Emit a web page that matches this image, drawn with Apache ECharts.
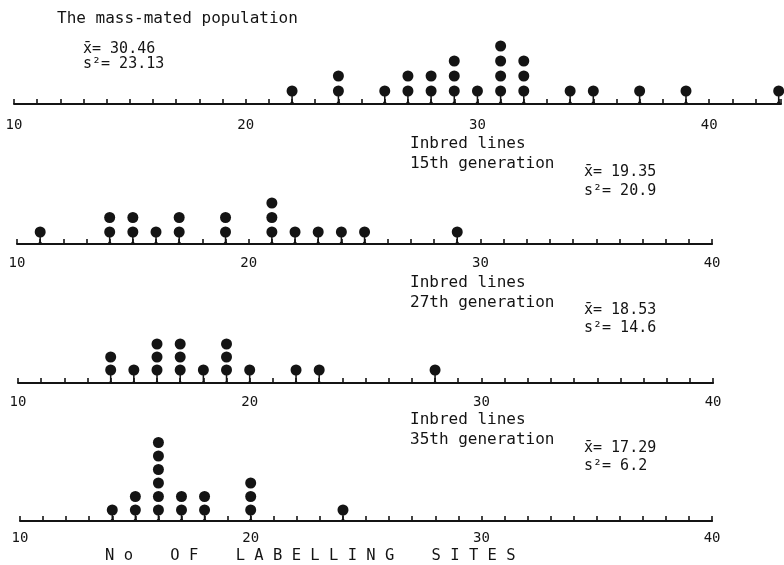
<!DOCTYPE html>
<html>
<head>
<meta charset="utf-8">
<script src="https://cdn.jsdelivr.net/npm/echarts@6/dist/echarts.min.js"></script>
<style>html,body{margin:0;padding:0;background:#fff}#c{width:784px;height:565px}</style>
</head>
<body>
<div id="c"></div>
<script>
// ---- data ----
const massValues  = [22,24,26,27,28,29,30,31,32,34,35,37,39,43];
const massCounts  = [1,2,1,2,2,3,1,4,3,1,1,1,1,1];
const gen15Values = [11,14,15,16,17,19,21,22,23,24,25,29];
const gen15Counts = [1,2,2,1,2,2,3,1,1,1,1,1];
const gen27Values = [14,15,16,17,18,19,20,22,23,28];
const gen27Counts = [2,1,3,3,1,3,1,1,1,1];
const gen35Values = [14,15,16,17,18,20,24];
const gen35Counts = [1,2,6,2,2,3,1];

const panelTitles = ["The mass-mated population", "Inbred lines\n15th generation", "Inbred lines\n27th generation", "Inbred lines\n35th generation"];
const meanTexts   = ["30.46", "19.35", "18.53", "17.29"];
const varTexts    = ["23.13", "20.9", "14.6", "6.2"];
const tickLabels  = [10, 20, 30, 40];
const axisTitle   = "N o    O F    L A B E L L I N G    S I T E S";

// ---- layout (styles / positions) ----
const panels = [
  {values: massValues,  counts: massCounts,  axisY: 104, left: 14, max: 43.1, unit: 23.27, spacing: 15, first: 13, margin: 14},
  {values: gen15Values, counts: gen15Counts, axisY: 244, left: 17, max: 40, unit: 23.17, spacing: 14.5, first: 12, margin: 12},
  {values: gen27Values, counts: gen27Counts, axisY: 384, left: 18, max: 40, unit: 23.17, spacing: 13, first: 14, margin: 11},
  {values: gen35Values, counts: gen35Counts, axisY: 521, left: 20, max: 40, unit: 23.07, spacing: 13.5, first: 11, margin: 10}
];
const H = 100;
const ink = '#141414';
const mono = '"DejaVu Sans Mono", "Liberation Mono", monospace';

const grids = [], xAxes = [], yAxes = [], series = [];
const stemPath = 'path://M4.2,0 L5.8,0 L5.8,9.5 L7.6,12 L2.4,12 L4.2,9.5 Z';

panels.forEach((p, i) => {
  grids.push({left: p.left, top: p.axisY - H, width: Math.min((p.max - 10) * p.unit, 784 - p.left), height: H});
  xAxes.push({
    type: 'value', gridIndex: i, min: 10, max: p.max, interval: 1,
    axisLine: {show: true, lineStyle: {color: ink, width: 2}},
    axisTick: {show: true, inside: true, length: 5, lineStyle: {color: ink, width: 1.6}},
    splitLine: {show: false},
    axisLabel: {
      margin: p.margin, color: ink, fontFamily: mono, fontSize: 14,
      formatter: v => (tickLabels.indexOf(v) >= 0 ? String(v) : '')
    }
  });
  const ymin = 1 - p.first / p.spacing;
  yAxes.push({type: 'value', gridIndex: i, min: ymin, max: ymin + H / p.spacing, show: false});
  const dots = [], stems = [];
  p.values.forEach((v, j) => {
    for (let k = 1; k <= p.counts[j]; k++) dots.push([v, k]);
    stems.push([v, 1]);
  });
  series.push({
    type: 'scatter', xAxisIndex: i, yAxisIndex: i, data: stems,
    symbol: stemPath, symbolSize: [5, p.first], symbolOffset: [0, p.first / 2],
    itemStyle: {color: ink, opacity: 1}, silent: true, z: 2
  });
  series.push({
    type: 'scatter', xAxisIndex: i, yAxisIndex: i, data: dots,
    symbol: 'circle', symbolSize: 11,
    itemStyle: {color: ink, opacity: 1}, silent: true, z: 3
  });
});

const txt = (x, y, text, size, lh) => ({
  type: 'text', x: x, y: y, silent: true,
  style: {text: text, fill: ink, font: size + 'px ' + mono, lineHeight: lh || size + 4, textAlign: 'left', textVerticalAlign: 'middle'}
});

const graphics = [
  txt(57, 19, panelTitles[0], 16),
  txt(83, 49, 'x\u0304= ' + meanTexts[0], 15),
  txt(83, 64, 's\u00b2= ' + varTexts[0], 15),
  txt(410, 154, panelTitles[1], 16, 20),
  txt(584, 172, 'x\u0304= ' + meanTexts[1], 15),
  txt(584, 191, 's\u00b2= ' + varTexts[1], 15),
  txt(410, 293, panelTitles[2], 16, 20),
  txt(584, 310, 'x\u0304= ' + meanTexts[2], 15),
  txt(584, 328, 's\u00b2= ' + varTexts[2], 15),
  txt(410, 430, panelTitles[3], 16, 20),
  txt(584, 448, 'x\u0304= ' + meanTexts[3], 15),
  txt(584, 466, 's\u00b2= ' + varTexts[3], 15),
  txt(105, 556, axisTitle, 15.5)
];

const chart = echarts.init(document.getElementById('c'), null, {renderer: 'canvas'});
chart.setOption({
  animation: false,
  backgroundColor: '#fff',
  grid: grids, xAxis: xAxes, yAxis: yAxes, series: series,
  graphic: graphics
});
</script>
</body>
</html>
